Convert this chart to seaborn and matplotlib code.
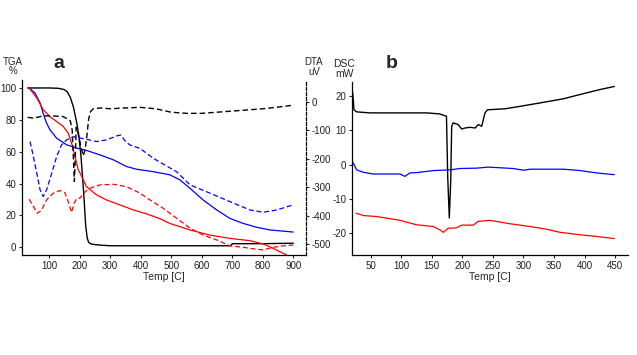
import matplotlib
matplotlib.use('Agg')
import matplotlib.pyplot as plt
import seaborn as sns
import pandas as pd

# ---- panel a: TGA (%) ----
tga_black_x = [30, 60, 100, 130, 150, 160, 170, 180, 190, 197, 204, 210, 215, 220, 225, 230, 240, 260, 300, 400, 500, 600, 695, 700, 800, 900]
tga_black_y = [100, 100, 100, 99.8, 99, 97.5, 94, 88, 79, 71, 59, 44, 30, 14, 6, 3, 2, 1.5, 1, 1, 1, 1, 1, 2.3, 2.3, 2.6]

tga_blue_x = [35, 54, 71, 81, 92, 103, 125, 158, 191, 223, 267, 311, 354, 387, 441, 496, 529, 562, 605, 649, 692, 736, 780, 824, 900]
tga_blue_y = [100, 96.9, 90.6, 84, 78, 73.8, 68.5, 64.3, 62.3, 60.8, 58, 54.9, 50.7, 49, 47.5, 45.5, 42.3, 37, 29.7, 23.5, 18.2, 15, 12.6, 10.9, 9.6]

tga_red_x = [35, 60, 81, 103, 125, 147, 163, 174, 185, 196, 206, 223, 256, 289, 333, 376, 420, 463, 496, 562, 627, 693, 758, 802, 834, 878]
tga_red_y = [100, 93.7, 86.4, 82, 79, 75.8, 71.7, 65.4, 57, 48.6, 45, 38, 32.9, 29.7, 26.6, 23.5, 21, 18, 15, 10.9, 7.7, 5.6, 4.2, 2.1, -0.6, -4.8]

# ---- panel a: DTA (uV) ----
dta_black_x = [30, 50, 80, 110, 145, 160, 170, 176, 180, 183, 186, 189, 195, 203, 212, 218, 224, 230, 236, 245, 270, 300, 350, 400, 450, 500, 550, 600, 650, 700, 750, 800, 850, 895]
dta_black_y = [-55, -58, -50, -50, -52, -60, -68, -100, -200, -280, -200, -90, -110, -150, -190, -170, -120, -60, -35, -25, -22, -25, -22, -20, -25, -37, -41, -41, -37, -33, -29, -25, -19, -13]

dta_blue_x = [38, 49, 60, 71, 81, 92, 109, 125, 141, 158, 180, 223, 256, 289, 322, 335, 351, 365, 398, 442, 518, 562, 627, 693, 758, 802, 846, 900]
dta_blue_y = [-140, -193, -251, -310, -333, -310, -251, -193, -152, -134, -123, -132, -140, -134, -120, -117, -140, -152, -164, -199, -246, -292, -321, -351, -380, -388, -380, -362]

dta_red_x = [35, 49, 62, 76, 92, 114, 136, 152, 163, 174, 182, 191, 201, 218, 234, 267, 311, 354, 398, 431, 474, 518, 562, 605, 649, 693, 736, 780, 802, 834, 867, 900]
dta_red_y = [-342, -368, -392, -380, -345, -321, -312, -319, -351, -389, -357, -339, -339, -316, -304, -292, -290, -298, -321, -345, -374, -409, -444, -468, -485, -506, -511, -518, -520, -511, -506, -503]

# ---- panel b: DSC (mW) ----
dsc_black_x = [20.5, 22.7, 27, 49, 98, 141.6, 163, 174, 176, 178.6, 181, 182.5, 185, 193, 199, 204, 212.5, 221, 226, 231.6, 237, 241, 270, 294, 327, 365, 398, 425, 448.7]
dsc_black_y = [21, 16, 15.4, 15.1, 15.1, 15.1, 14.8, 14.1, -3.4, -15.5, -4.4, 11.2, 12.2, 11.7, 10.4, 10.7, 10.9, 10.7, 11.7, 11.2, 15.1, 16, 16.3, 17, 18, 19.2, 20.7, 21.9, 22.8]

dsc_blue_x = [21.5, 27, 38, 54, 98, 106, 114, 125, 152.5, 180, 196, 223, 242.5, 283, 300, 311, 365, 392.6, 420, 448.7]
dsc_blue_y = [0.5, -1.5, -2.2, -2.7, -2.7, -3.4, -2.4, -2.3, -1.7, -1.5, -1.1, -1.0, -0.7, -1.1, -1.6, -1.3, -1.3, -1.7, -2.4, -2.9]

dsc_red_x = [26, 38, 60, 98, 125, 152.5, 163.4, 169, 177, 190, 199, 218, 226, 245, 278, 311, 338, 360, 392.6, 420, 448.7]
dsc_red_y = [-14.1, -14.8, -15.1, -16.2, -17.5, -18, -19, -19.7, -18.5, -18.4, -17.6, -17.6, -16.5, -16.2, -17.2, -18, -18.8, -19.7, -20.4, -20.9, -21.5]

sns.set_style("ticks")
plt.rcParams['font.family'] = ['Liberation Sans', 'DejaVu Sans']
plt.rcParams['axes.unicode_minus'] = False

W, H = 637, 355
fig = plt.figure(figsize=(W / 100, H / 100), dpi=100)
ax_a = fig.add_axes([22 / W, 100 / H, 284 / W, 175 / H])
ax_dta = ax_a.twinx()
ax_b = fig.add_axes([352 / W, 100 / H, 276 / W, 173 / H])

dash = (0, (4, 2.2))
sns.lineplot(x=tga_black_x, y=tga_black_y, ax=ax_a, color='black', lw=1.0, errorbar=None)
sns.lineplot(x=tga_blue_x, y=tga_blue_y, ax=ax_a, color='blue', lw=0.9, errorbar=None)
sns.lineplot(x=tga_red_x, y=tga_red_y, ax=ax_a, color='red', lw=0.9, errorbar=None)
sns.lineplot(x=dta_black_x, y=dta_black_y, ax=ax_dta, color='black', lw=1.0, linestyle=dash, errorbar=None)
sns.lineplot(x=dta_blue_x, y=dta_blue_y, ax=ax_dta, color='blue', lw=0.9, linestyle=dash, errorbar=None)
sns.lineplot(x=dta_red_x, y=dta_red_y, ax=ax_dta, color='red', lw=0.9, linestyle=dash, errorbar=None)

sns.lineplot(x=dsc_black_x, y=dsc_black_y, ax=ax_b, color='black', lw=1.0, errorbar=None)
sns.lineplot(x=dsc_blue_x, y=dsc_blue_y, ax=ax_b, color='blue', lw=0.9, errorbar=None)
sns.lineplot(x=dsc_red_x, y=dsc_red_y, ax=ax_b, color='red', lw=0.9, errorbar=None)

ax_a.set_xlim(11.6, 941.6)
ax_a.set_ylim(-4.8, 105)
ax_dta.set_ylim(-538, 76)
ax_b.set_xlim(19.4, 471)
ax_b.set_ylim(-26.3, 24.1)

ax_a.set_xticks(range(100, 901, 100))
ax_a.set_yticks(range(0, 101, 20))
ax_dta.set_yticks(range(-500, 1, 100))
ax_b.set_xticks(range(50, 451, 50))
ax_b.set_yticks([-20, -10, 0, 10, 20])

for ax in (ax_a, ax_dta, ax_b):
    ax.tick_params(direction='out', length=2.5, width=0.8, labelsize=7, pad=1.5, colors='#222222')
    ax.set_xlabel('')
    ax.set_ylabel('')

for s in ('top', 'right'):
    ax_a.spines[s].set_visible(False)
    ax_b.spines[s].set_visible(False)
for s in ('top', 'left', 'bottom'):
    ax_dta.spines[s].set_visible(False)
ax_dta.spines['right'].set_linestyle((0, (2.5, 1.5)))
for ax in (ax_a, ax_dta, ax_b):
    for sp in ax.spines.values():
        sp.set_linewidth(0.9)
        sp.set_color('black')

ax_a.set_xlabel('Temp [C]', fontsize=7.5, labelpad=1)
ax_b.set_xlabel('Temp [C]', fontsize=7.5, labelpad=1)

def ftext(px, py, s, **kw):
    fig.text(px / W, 1 - py / H, s, ha='center', va='center', **kw)

ftext(13, 62, 'TGA', fontsize=7)
ftext(13, 71, '%', fontsize=7)
ftext(59, 63, 'a', fontsize=14, fontweight='bold')
ftext(314, 62, 'DTA', fontsize=7)
ftext(314, 72, 'uV', fontsize=7)
ftext(344, 64, 'DSC', fontsize=7.5)
ftext(344, 74, 'mW', fontsize=7.5)
ftext(392, 64, 'b', fontsize=14, fontweight='bold')

fig.savefig('out.png', dpi=100)
